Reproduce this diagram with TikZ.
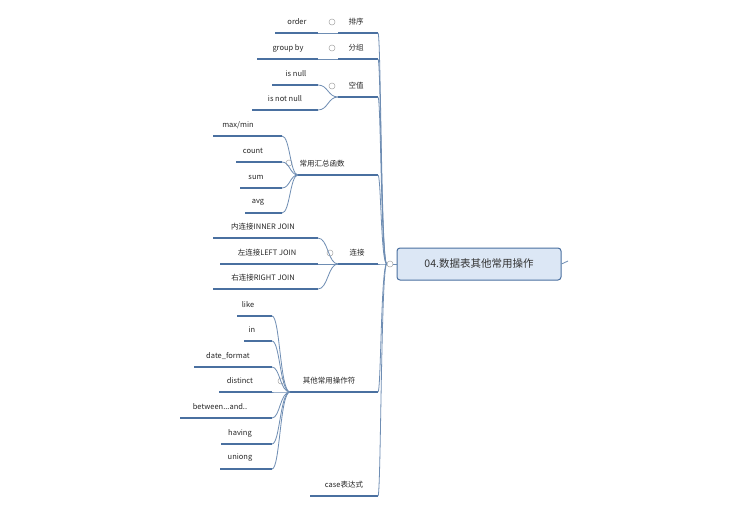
\documentclass[tikz,border=0pt]{standalone}
\usepackage{fontspec}
\setmainfont{Noto Sans CJK SC}
\begin{document}
\begin{tikzpicture}[x=1pt,y=-1pt,
  ul/.style={draw=lineblue,line width=1.6pt},
  link/.style={draw=lineblue!80,line width=0.8pt},
  txt/.style={font=\fontsize{7.5}{9}\selectfont,inner sep=0pt,text=black!85},
  fold/.style={circle,draw=gray!70,line width=0.5pt,minimum size=6pt,inner sep=0pt,fill=white},
]
\definecolor{lineblue}{RGB}{74,112,160}
\useasboundingbox (0,0) rectangle (756,520);
\fill[white] (0,0) rectangle (756,520);
% central
\node[draw=lineblue,line width=1pt,fill={rgb,255:red,220;green,231;blue,245},rounded corners=3pt,
  minimum width=164pt,minimum height=32pt,font=\fontsize{10.5}{12}\selectfont,text=black!80] (root) at (479,264) {04.数据表其他常用操作};
\coordinate (stub) at (568,261);
\draw[link] (root.east) -- (stub);
\node[fold] (rc) at (390,264) {};
\draw[link] (root.west) -- (rc);
% level1: name, text, textx, y, xstart
\newcommand\lone[5]{%
  \node[txt] (#1) at (#3,#4-11) {#2};
  \coordinate (#1s) at (#5,#4); \coordinate (#1e) at (378,#4);
  \draw[ul] (#1s) -- (#1e);
  \draw[link] (rc.west) .. controls (381,264) and (381,#4) .. (#1e);}
\newcommand\leaf[6]{% name text x y xs xe
  \node[txt] (#1) at (#3,#4-11) {#2};
  \coordinate (#1s) at (#5,#4); \coordinate (#1e) at (#6,#4);
  \draw[ul] (#1s) -- (#1e);}
\newcommand\join[3]{% child parent-start xmid
  \draw[link] (#1e) .. controls (#3,\pgfkeysvalueof{/dummy}) .. (#2s);}
\lone{p1}{排序}{356}{33}{338}
\lone{p2}{分组}{356}{59}{338}
\lone{p3}{空值}{356}{97}{338}
\lone{p4}{常用汇总函数}{322}{175}{298}
\lone{p5}{连接}{357}{264}{338}
\lone{p6}{其他常用操作符}{329}{392}{290}
\lone{p7}{case表达式}{344}{496}{310}
\node[fold] (f1) at (332,22) {};
\node[fold] (f2) at (332,48) {};
\node[fold] (f3) at (332,86) {};
\node[fold] (f4) at (289,163) {};
\node[fold] (f5) at (330,253) {};
\node[fold] (f6) at (281,381) {};
% leaves
\leaf{a1}{order}{297}{33}{275}{318}
\leaf{a2}{group by}{288}{59}{257}{318}
\leaf{a3}{is null}{296}{85}{272}{318}
\leaf{a4}{is not null}{285}{110}{252}{318}
\leaf{b1}{max/min}{238}{136}{213}{282}
\leaf{b2}{count}{253}{162}{236}{282}
\leaf{b3}{sum}{256}{188}{240}{282}
\leaf{b4}{avg}{258}{213}{245}{282}
\leaf{c1}{内连接INNER JOIN}{263}{238}{213}{318}
\leaf{c2}{左连接LEFT JOIN}{267}{264}{220}{318}
\leaf{c3}{右连接RIGHT JOIN}{263}{289}{213}{318}
\leaf{d1}{like}{248}{316}{237}{272}
\leaf{d2}{in}{252}{341}{244}{272}
\leaf{d3}{date\_format}{228}{367}{194}{272}
\leaf{d4}{distinct}{240}{392}{219}{272}
\leaf{d5}{between...and..}{220}{418}{180}{272}
\leaf{d6}{having}{240}{444}{221}{272}
\leaf{d7}{uniong}{240}{469}{220}{272}
% connections
\foreach \c/\p/\m in {a1/p1/328,a2/p2/328,a3/p3/328,a4/p3/328,
  b1/p4/290,b2/p4/290,b3/p4/290,b4/p4/290,
  c1/p5/328,c2/p5/328,c3/p5/328,
  d1/p6/280,d2/p6/280,d3/p6/280,d4/p6/280,d5/p6/280,d6/p6/280,d7/p6/280}{
  \draw[link] (\c e) .. controls (\m,0|-\c e) and (\m,0|-\p s) .. (\p s);
}
\end{tikzpicture}
\end{document}
